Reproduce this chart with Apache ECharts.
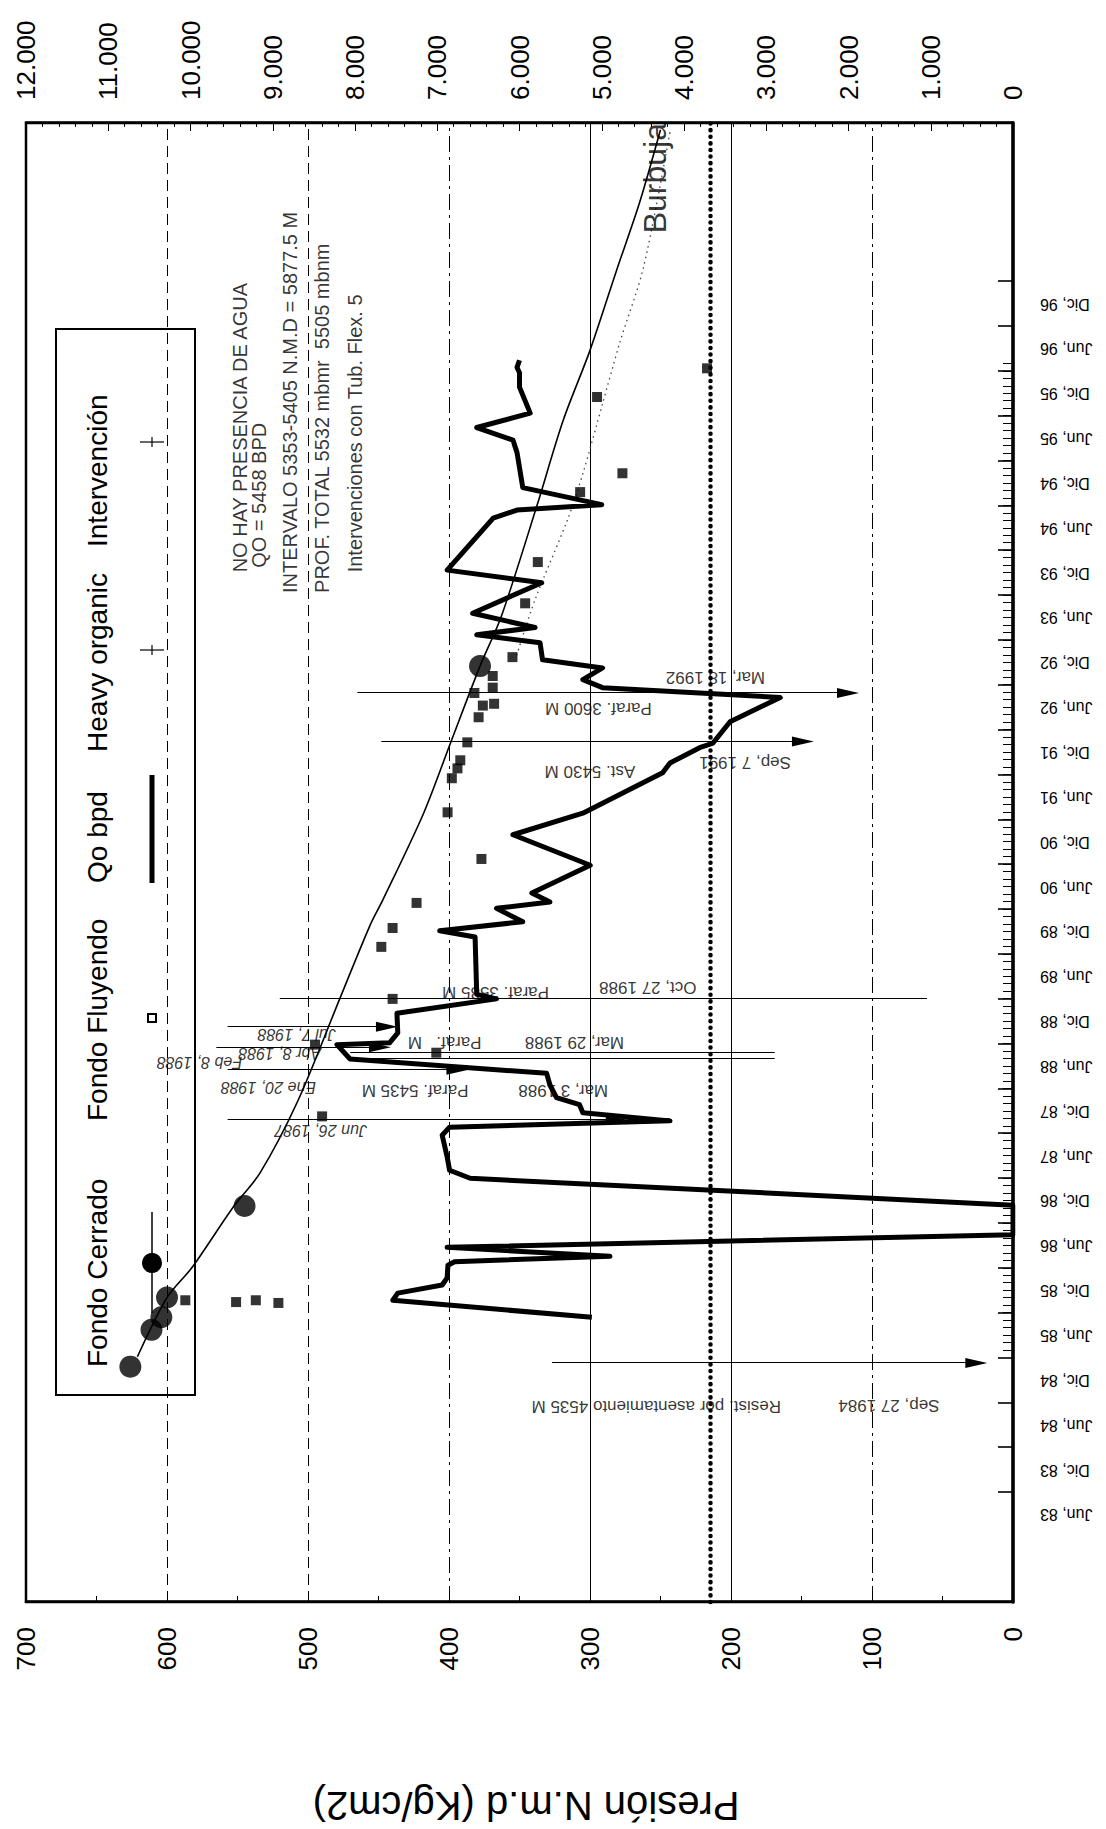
<!DOCTYPE html>
<html>
<head>
<meta charset="utf-8">
<title>Presión N.m.d y Qo</title>
<script src="https://cdn.jsdelivr.net/npm/echarts@6.0.0/dist/echarts.min.js"></script>
<style>
  html, body { margin: 0; padding: 0; background: #fff; width: 1106px; height: 1829px; overflow: hidden; }
  /* el grafico se dibuja apaisado y se gira 90 grados, como en la hoja original */
  #chart { position: absolute; left: 0; top: 0; width: 1829px; height: 1106px;
           transform-origin: 0 0; transform: translate(0, 1829px) rotate(-90deg); }
</style>
</head>
<body>
<div id="chart"></div>
<script>
const FONT = '"Liberation Sans", Arial, sans-serif'

// etiquetas del eje de fechas (años decimales)
const dateTicks = [1983.417, 1983.917, 1984.417, 1984.917, 1985.417, 1985.917, 1986.417, 1986.917,
  1987.417, 1987.917, 1988.417, 1988.917, 1989.417, 1989.917, 1990.417, 1990.917, 1991.417, 1991.917,
  1992.417, 1992.917, 1993.417, 1993.917, 1994.417, 1994.917, 1995.417, 1995.917, 1996.417, 1996.917]
const dateLabels = ['Jun, 83', 'Dic, 83', 'Jun, 84', 'Dic, 84', 'Jun, 85', 'Dic, 85', 'Jun, 86', 'Dic, 86',
  'Jun, 87', 'Dic, 87', 'Jun, 88', 'Dic, 88', 'Jun, 89', 'Dic, 89', 'Jun, 90', 'Dic, 90', 'Jun, 91', 'Dic, 91',
  'Jun, 92', 'Dic, 92', 'Jun, 93', 'Dic, 93', 'Jun, 94', 'Dic, 94', 'Jun, 95', 'Dic, 95', 'Jun, 96', 'Dic, 96']

// Qo bpd (eje derecho)
const qoData = [
  [1985.62, 5120], [1985.81, 7540], [1985.89, 7480], [1985.98, 6940], [1986.06, 6880], [1986.20, 6870],
  [1986.24, 6790], [1986.30, 4900], [1986.40, 6880], [1986.54, 0], [1986.87, 0], [1987.17, 6600],
  [1987.26, 6850], [1987.41, 6880], [1987.65, 6940], [1987.74, 6850], [1987.81, 4170], [1987.90, 5230],
  [1987.99, 5270], [1988.07, 5550], [1988.21, 5630], [1988.34, 5670], [1988.50, 8060], [1988.66, 8220],
  [1988.68, 7580], [1988.79, 7480], [1989.01, 7490], [1989.17, 6280], [1989.22, 6520], [1989.86, 6540],
  [1989.93, 6970], [1990.03, 5960], [1990.18, 6280], [1990.25, 5630], [1990.35, 5850], [1990.66, 5140],
  [1991.00, 6080], [1991.24, 5230], [1991.69, 4260], [1991.80, 4170], [1991.97, 3810], [1992.02, 3650],
  [1992.26, 3440], [1992.53, 2830], [1992.58, 3810], [1992.64, 4990], [1992.73, 5230], [1992.86, 4990],
  [1992.95, 5720], [1993.14, 5750], [1993.23, 6520], [1993.31, 5810], [1993.47, 6570], [1993.81, 5730],
  [1993.95, 6880], [1994.53, 6320], [1994.62, 6030], [1994.68, 5000], [1994.87, 5960], [1995.26, 6030],
  [1995.40, 6080], [1995.54, 6520], [1995.70, 5870], [1995.99, 6000], [1996.15, 6000], [1996.21, 6030],
  [1996.29, 6000]
]
// presiones (eje izquierdo)
const fondoCerrado = [[1985.07, 626], [1985.48, 611], [1985.62, 604], [1985.84, 600], [1986.86, 545], [1992.88, 378]]
const fondoFluyendo = [
  [1985.81, 587], [1985.79, 551], [1985.81, 537], [1985.78, 521], [1987.86, 490], [1988.66, 495],
  [1988.57, 409], [1989.17, 440], [1989.75, 448], [1989.96, 440], [1990.24, 423], [1990.73, 377],
  [1991.25, 401], [1991.63, 398], [1991.74, 394], [1991.83, 392], [1992.03, 387], [1992.31, 379],
  [1992.44, 376], [1992.46, 368], [1992.58, 382], [1992.64, 369], [1992.77, 369], [1992.98, 355],
  [1993.58, 346], [1994.04, 337], [1994.82, 307], [1995.03, 277], [1995.88, 295], [1996.20, 217]
]
const trendCerrado = [
  [1985.18, 621], [1985.84, 600], [1986.18, 582], [1986.85, 553], [1987.23, 534], [1988.04, 507],
  [1989.19, 477], [1989.99, 456], [1990.27, 447], [1991.24, 418], [1992.02, 399], [1992.88, 378],
  [1993.43, 363], [1994.65, 338], [1995.62, 319], [1996.40, 300], [1997.30, 281], [1998.04, 265], [1998.86, 250]
]
const trendFluyendo = [[1993.00, 352], [1993.62, 339], [1994.51, 316], [1995.03, 305], [1995.81, 291],
  [1996.48, 279], [1997.33, 262], [1998.86, 243]]
const presionBurbuja = 215

// lineas de intervenciones: [fecha, presion inicio, presion fin]
const arrowLines = [[1985.11, 327, 26], [1987.82, 557, 281], [1988.38, 557, 394], [1988.63, 565, 449],
  [1988.86, 557, 444], [1992.04, 448, 149], [1992.58, 465, 117]]
const plainLines = [[1988.57, 470, 169], [1988.50, 470, 169], [1989.17, 520, 61]]
// textos de intervenciones: [fecha, presion, texto]
const annotTexts = [
  [1984.63, 253, 'Resist. por asentamiento 4535 M'], [1984.64, 88, 'Sep, 27 1984'],
  [1988.15, 424, 'Paraf. 5435 M'], [1988.15, 319, 'Mar, 3 1988'],
  [1988.68, 403, 'Paraf.   M'], [1988.68, 311, 'Mar, 29 1988'],
  [1989.24, 367, 'Paraf. 3585 M'], [1989.30, 259, 'Oct, 27 1988'],
  [1991.70, 300, 'Ast. 5430 M'], [1991.81, 190, 'Sep, 7 1991'],
  [1992.41, 294, 'Paraf. 3600 M'], [1992.75, 211, 'Mar, 18 1992']
]
const italicTexts = [
  [1987.70, 491, 'Jun 26, 1987'], [1988.18, 528, 'Ene 20, 1988'], [1988.46, 577, 'Feb 8, 1988'],
  [1988.56, 520, 'Abr 8, 1988'], [1988.77, 508, 'Jul 7, 1988']
]
const notes = [
  [1993.92, 548, 'NO HAY PRESENCIA DE AGUA'], [1993.97, 535, 'QO = 5458 BPD'],
  [1993.69, 513, 'INTERVALO 5353-5405 N.M.D = 5877.5 M'], [1993.69, 490, 'PROF. TOTAL 5532 mbmr  5505 mbnm'],
  [1993.92, 467, 'Intervenciones con Tub. Flex. 5']
]
const gridLevels = [100, 200, 300, 400, 500, 600]

const X_MIN = 1982.446
const X_MAX = 1998.935
const dashStyles = { solid: 'solid', dashed: [11, 6], dashdot: [16, 5, 3, 5] }
const gridDash = ['dashdot', 'solid', 'solid', 'dashdot', 'dashed', 'dashed']

// marcas mensuales del eje de fechas
const monthTicks = []
for (let k = 0; k <= 132; k++) monthTicks.push(1985.25 + k / 12)
const majorTicks = dateTicks.map(v => v + 0.25)

function dateLabel(v) {
  let best = 0
  dateTicks.forEach((d, i) => { if (Math.abs(d - v) < Math.abs(dateTicks[best] - v)) best = i })
  return dateLabels[best]
}

const chartInstance = echarts.init(document.getElementById('chart'), null, { renderer: 'svg' })

const lineMarks = arrowLines.map(l => [
  { coord: [l[0], l[1]], symbol: 'none' },
  { coord: [l[0], l[2]], symbol: 'triangle', symbolSize: [10, 22] }
]).concat(plainLines.map(l => [
  { coord: [l[0], l[1]], symbol: 'none' },
  { coord: [l[0], l[2]], symbol: 'none' }
]))

const legendY = 97
const sampleY = 152
const legendText = (x, text) => ({
  type: 'text', x: x, y: legendY,
  style: { text: text, fontSize: 28, fontFamily: FONT, fill: '#000', align: 'left', verticalAlign: 'middle' }
})
const cross = (x) => ({
  type: 'group', children: [
    { type: 'line', shape: { x1: x, y1: sampleY - 12, x2: x, y2: sampleY + 12 }, style: { stroke: '#000', lineWidth: 1.2 } },
    { type: 'line', shape: { x1: x - 5, y1: sampleY, x2: x + 5, y2: sampleY }, style: { stroke: '#000', lineWidth: 1.2 } }
  ]
})

const option = {
  animation: false,
  backgroundColor: '#fff',
  textStyle: { fontFamily: FONT, color: '#000' },
  grid: {
    left: 227, top: 26, width: 1479, height: 987,
    show: true, borderColor: '#000', borderWidth: 2.5, backgroundColor: 'transparent',
    containLabel: false, outerBoundsMode: 'none'
  },
  xAxis: [{
    type: 'value', min: X_MIN, max: X_MAX, position: 'bottom',
    axisLine: { show: true, onZero: false, lineStyle: { color: '#000', width: 3.5 } },
    axisTick: { show: true, inside: true, length: 15, customValues: majorTicks, lineStyle: { color: '#000', width: 1.6 } },
    axisLabel: { show: true, rotate: 90, margin: 27, fontSize: 16, color: '#000', customValues: dateTicks, formatter: dateLabel },
    splitLine: { show: false }
  }, {
    type: 'value', min: X_MIN, max: X_MAX, position: 'bottom',
    axisLine: { show: false },
    axisTick: { show: true, inside: true, length: 10, customValues: monthTicks, lineStyle: { color: '#000', width: 1 } },
    axisLabel: { show: false },
    splitLine: { show: false }
  }],
  yAxis: [{
    type: 'value', min: 0, max: 700, interval: 100, position: 'left',
    axisLine: { show: true, onZero: false, lineStyle: { color: '#000', width: 2.5 } },
    axisTick: { show: true, inside: true, length: 8, lineStyle: { color: '#000' } },
    minorTick: { show: true, splitNumber: 2, length: 6, lineStyle: { color: '#000' } },
    axisLabel: { fontSize: 26, margin: 25, color: '#000' },
    splitLine: { show: false }
  }, {
    type: 'value', min: 0, max: 12000, interval: 1000, position: 'right',
    axisLine: { show: true, onZero: false, lineStyle: { color: '#000', width: 2.5 } },
    axisTick: { show: true, inside: true, length: 8, lineStyle: { color: '#000' } },
    minorTick: { show: true, splitNumber: 5, length: 4, lineStyle: { color: '#000' } },
    axisLabel: { fontSize: 26, margin: 23, color: '#000', formatter: v => v === 0 ? '0' : (v / 1000).toFixed(3) },
    splitLine: { show: false }
  }],
  series: [
    {
      name: 'Tendencia cerrado', type: 'line', yAxisIndex: 0, data: trendCerrado,
      smooth: 0.3, symbol: 'none', lineStyle: { color: '#000', width: 1.6 }, z: 3,
      markLine: {
        silent: true, symbol: 'none', label: { show: false }, z: 1,
        data: gridLevels.map((v, i) => ({ yAxis: v, lineStyle: { color: '#000', width: 1, type: dashStyles[gridDash[i]] } }))
          .concat([{ yAxis: presionBurbuja, lineStyle: { color: '#000', width: 4.5, type: [0.1, 6.5], cap: 'round' } }])
      }
    },
    {
      name: 'Tendencia fluyendo', type: 'line', yAxisIndex: 0, data: trendFluyendo,
      smooth: 0.3, symbol: 'none', lineStyle: { color: '#444', width: 1.3, type: [1.5, 4] }, z: 3
    },
    {
      name: 'Qo bpd', type: 'line', yAxisIndex: 1, data: qoData,
      symbol: 'none', lineStyle: { color: '#000', width: 5, join: 'round' }, z: 5
    },
    {
      name: 'Fondo Fluyendo', type: 'scatter', yAxisIndex: 0, data: fondoFluyendo,
      symbol: 'rect', symbolSize: 10, itemStyle: { color: '#000' }, z: 6
    },
    {
      name: 'Fondo Cerrado', type: 'scatter', yAxisIndex: 0, data: fondoCerrado,
      symbol: 'circle', symbolSize: 22, itemStyle: { color: '#000' }, z: 6
    },
    {
      name: 'Intervenciones', type: 'scatter', yAxisIndex: 0, symbolSize: 1,
      itemStyle: { color: 'transparent' }, z: 7,
      data: annotTexts.map(a => ({ value: [a[0], a[1]], label: { formatter: a[2] } })),
      label: { show: true, position: 'inside', rotate: 90, fontSize: 17, color: '#000', fontFamily: FONT },
      markLine: { silent: true, label: { show: false }, lineStyle: { color: '#000', width: 1.2, type: 'solid' }, data: lineMarks }
    },
    {
      name: 'Fechas', type: 'scatter', yAxisIndex: 0, symbolSize: 1,
      itemStyle: { color: 'transparent' }, z: 7,
      data: italicTexts.map(a => ({ value: [a[0], a[1]], label: { formatter: a[2] } })),
      label: { show: true, position: 'inside', rotate: 90, fontSize: 16, fontStyle: 'italic', color: '#000', fontFamily: FONT }
    },
    {
      name: 'Notas', type: 'scatter', yAxisIndex: 0, symbolSize: 1,
      itemStyle: { color: 'transparent' }, z: 7,
      data: notes.map(a => ({ value: [a[0], a[1]], label: { formatter: a[2] } })),
      label: { show: true, position: 'right', distance: 0, fontSize: 20, color: '#000', fontFamily: FONT }
    },
    {
      name: 'Burbuja', type: 'scatter', yAxisIndex: 0, symbolSize: 1,
      itemStyle: { color: 'transparent' }, z: 7,
      data: [{ value: [1998.32, 254], label: { formatter: 'Burbuja' } }],
      label: { show: true, position: 'inside', fontSize: 32, color: '#000', fontFamily: FONT }
    }
  ],
  graphic: [
    {
      type: 'text', x: 23, y: 526, rotation: Math.PI / 2,
      style: { text: 'Presión N.m.d (Kg/cm2)', fontSize: 40, fontFamily: FONT, fill: '#000', align: 'center', verticalAlign: 'middle' }
    },
    { type: 'rect', shape: { x: 434, y: 56, width: 1066, height: 139 }, style: { fill: 'none', stroke: '#000', lineWidth: 2 } },
    legendText(462, 'Fondo Cerrado'),
    legendText(708, 'Fondo Fluyendo'),
    legendText(946, 'Qo bpd'),
    legendText(1077, 'Heavy organic'),
    legendText(1282, 'Intervención'),
    { type: 'line', shape: { x1: 516, y1: sampleY, x2: 617, y2: sampleY }, style: { stroke: '#000', lineWidth: 1.5 } },
    { type: 'circle', shape: { cx: 566, cy: sampleY, r: 10 }, style: { fill: '#000' } },
    { type: 'rect', shape: { x: 807, y: sampleY - 4, width: 8, height: 8 }, style: { fill: '#fff', stroke: '#000', lineWidth: 2 } },
    { type: 'line', shape: { x1: 946, y1: sampleY, x2: 1054, y2: sampleY }, style: { stroke: '#000', lineWidth: 5 } },
    cross(1179),
    cross(1387)
  ]
}

chartInstance.setOption(option)
</script>
</body>
</html>
